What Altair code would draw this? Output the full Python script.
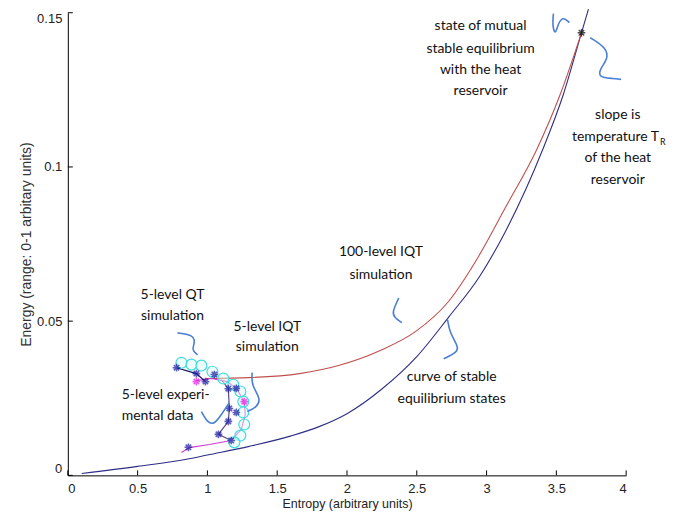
import altair as alt
import pandas as pd

# ---------------- data ----------------
# curve of stable equilibrium states
eq_S = [0.1, 0.5, 0.85, 1.0, 1.3, 1.6, 1.8, 2.0, 2.25, 2.5, 2.73, 2.95, 3.14, 3.4, 3.55, 3.68, 3.73]
eq_E = [0.0006, 0.0029, 0.0052, 0.0066, 0.0094, 0.0128, 0.0158, 0.0200, 0.0280, 0.0385, 0.0514, 0.0645, 0.0795, 0.1054, 0.1235, 0.1435, 0.1512]

# 100-level IQT simulation
red_S = [0.99, 1.3, 1.66, 1.94, 2.25, 2.49, 2.726, 2.936, 3.132, 3.357, 3.53, 3.68]
red_E = [0.0314, 0.0317, 0.0330, 0.0356, 0.0407, 0.0466, 0.0563, 0.0705, 0.0866, 0.1054, 0.1238, 0.1435]

# 5-level QT simulation (cyan circles)
qt_S = [0.814, 0.886, 0.957, 1.036, 1.114, 1.186, 1.236, 1.257, 1.257, 1.264, 1.236, 1.193]
qt_E = [0.0365, 0.0359, 0.0356, 0.0336, 0.0314, 0.0294, 0.0272, 0.0239, 0.0204, 0.0165, 0.0129, 0.0107]

# 5-level IQT simulation (magenta line + stars)
iqt_S = [0.814, 0.871, 1.014, 1.171, 1.243, 1.271, 1.264, 1.214, 1.143, 1.029, 0.921]
iqt_E = [0.0074, 0.009, 0.010, 0.0113, 0.0149, 0.0197, 0.0239, 0.0278, 0.0304, 0.0314, 0.0307]
iqt_star_S = [0.921, 1.264]
iqt_star_E = [0.0304, 0.0239]

# 5-level experimental data (navy stars)
exp_S = [0.779, 0.921, 0.986, 1.05, 1.15, 1.207, 1.157, 1.207, 1.15, 1.079, 1.171, 0.864]
exp_E = [0.0349, 0.0330, 0.0304, 0.0327, 0.0281, 0.0282, 0.0217, 0.0204, 0.0175, 0.0133, 0.0113, 0.0091]
exp_line1_S = [0.779, 0.921, 0.986]
exp_line1_E = [0.0349, 0.0330, 0.0304]
exp_line2_S = [1.10, 1.15, 1.157, 1.15, 1.079, 1.171]
exp_line2_E = [0.0310, 0.0281, 0.0217, 0.0175, 0.0133, 0.0113]

# state of mutual stable equilibrium
star_S = [3.68]
star_E = [0.1435]

# hand-drawn blue pointer strokes
sq1_S = [3.479, 3.471, 3.493, 3.514, 3.55, 3.593]
sq1_E = [0.1497, 0.1458, 0.1426, 0.1468, 0.1487, 0.1468]
sq2_S = [3.743, 3.857, 3.871, 3.814, 3.8, 3.907, 3.964]
sq2_E = [0.1419, 0.1387, 0.1351, 0.1319, 0.129, 0.1287, 0.1284]
sq3_S = [2.371, 2.321, 2.343, 2.393]
sq3_E = [0.0575, 0.0527, 0.0511, 0.0495]
sq4_S = [2.721, 2.736, 2.8, 2.786, 2.693]
sq4_E = [0.0504, 0.0462, 0.0417, 0.0398, 0.0378]
sq5_S = [0.786, 0.893, 0.914, 0.886, 0.929]
sq5_E = [0.0462, 0.0456, 0.0433, 0.0407, 0.0391]
sq6_S = [1.321, 1.314, 1.386, 1.35, 1.286]
sq6_E = [0.0333, 0.0294, 0.0246, 0.022, 0.0207]
sq7_S = [0.957, 1.0, 1.05, 1.1, 1.157]
sq7_E = [0.0207, 0.0171, 0.0165, 0.0197, 0.0236]

# annotation texts
ann_center = [
    ("state of mutual", 2.957, 0.1458),
    ("stable equilibrium", 2.957, 0.1384),
    ("with the heat", 2.957, 0.1313),
    ("reservoir", 2.957, 0.1245),
    ("slope is", 3.94, 0.1167),
    ("of the heat", 3.94, 0.1028),
    ("reservoir", 3.94, 0.0957),
    ("100-level IQT", 2.243, 0.0724),
    ("simulation", 2.243, 0.065),
    ("curve of stable", 2.75, 0.032),
    ("equilibrium states", 2.75, 0.0249),
    ("5-level QT", 0.75, 0.0585),
    ("simulation", 0.75, 0.0517),
    ("5-level IQT", 1.429, 0.0482),
    ("simulation", 1.429, 0.0417),
]
ann_left = [
    ("5-level experi-", 0.386, 0.0262),
    ("mental data", 0.386, 0.0191),
]
ann_right = [("temperature T", 4.236, 0.1096)]
ann_sub = [("R", 4.243, 0.1082)]

x_ticks = [0, 0.5, 1, 1.5, 2, 2.5, 3, 3.5, 4]
y_ticks = [0, 0.05, 0.1, 0.15]

# ---------------- build tables ----------------
def line_df(name, xs, ys):
    return pd.DataFrame({"S": xs, "E": ys, "series": name, "order": range(len(xs))})

curves = pd.concat([
    line_df("eq", eq_S, eq_E),
    line_df("red", red_S, red_E),
])
lines = pd.concat([
    line_df("iqt", iqt_S, iqt_E),
    line_df("exp1", exp_line1_S, exp_line1_E),
    line_df("exp2", exp_line2_S, exp_line2_E),
])
squig = pd.concat([
    line_df(f"sq{i}", s, e) for i, (s, e) in enumerate(
        [(sq1_S, sq1_E), (sq2_S, sq2_E), (sq3_S, sq3_E), (sq4_S, sq4_E),
         (sq5_S, sq5_E), (sq6_S, sq6_E), (sq7_S, sq7_E)])
])

xs = alt.Scale(domain=[0, 4], nice=False)
ys = alt.Scale(domain=[0, 0.15], nice=False)

FONT_AX = "Liberation Sans"
FONT_TXT = "Lato"

X = alt.X("S:Q", scale=xs, axis=alt.Axis(
    values=x_ticks, format="~g", title="Entropy (arbitrary units)", grid=False,
    ticks=False, labelPadding=7, titlePadding=2, domainColor="black",
    labelFont=FONT_AX, labelFontSize=13, labelColor="#222", titleFont=FONT_AX,
    titleFontSize=12.5, titleFontWeight="normal", titleColor="#222"))
Y = alt.Y("E:Q", scale=ys, axis=alt.Axis(
    values=y_ticks, format="~g", title="Energy (range: 0-1 arbitary units)", grid=False,
    ticks=False, labelPadding=6, titlePadding=3, domainColor="black", labelFlush=True,
    labelFont=FONT_AX, labelFontSize=13, labelColor="#222", titleFont=FONT_AX,
    titleFontSize=14, titleFontWeight="normal", titleColor="#333"))

curve_colors = alt.Scale(domain=["eq", "red"], range=["#2e2e86", "#c0504d"])
line_colors = alt.Scale(domain=["iqt", "exp1", "exp2"],
                        range=["#d040d0", "#10105a", "#5a4a8a"])

base_curves = alt.Chart(curves).mark_line(strokeWidth=1.1, interpolate="monotone").encode(
    x=X, y=Y, color=alt.Color("series:N", scale=curve_colors, legend=None),
    detail="series:N", order="order:Q")

base_lines = alt.Chart(lines).mark_line(strokeWidth=1.2).encode(
    x="S:Q", y="E:Q", color=alt.Color("series:N", scale=line_colors, legend=None),
    detail="series:N", order="order:Q")

qt = alt.Chart(pd.DataFrame({"S": qt_S, "E": qt_E})).mark_point(
    shape="circle", size=120, filled=False, stroke="#3fdede", strokeWidth=1.2,
    fill="#e0fafa", fillOpacity=0.5).encode(x="S:Q", y="E:Q")

ASTER = "M-1,0L1,0M0,-1L0,1M-0.7,-0.7L0.7,0.7M-0.7,0.7L0.7,-0.7"

exp_pts = alt.Chart(pd.DataFrame({"S": exp_S, "E": exp_E})).mark_point(
    shape=ASTER, size=60, filled=False, stroke="#1a1aa0", strokeWidth=1.6).encode(x="S:Q", y="E:Q")
iqt_pts = alt.Chart(pd.DataFrame({"S": iqt_star_S, "E": iqt_star_E})).mark_point(
    shape=ASTER, size=60, filled=False, stroke="#e020e0", strokeWidth=1.6).encode(x="S:Q", y="E:Q")
star = alt.Chart(pd.DataFrame({"S": star_S, "E": star_E})).mark_point(
    shape=ASTER, size=60, filled=False, stroke="black", strokeWidth=1.4).encode(x="S:Q", y="E:Q")

sq = alt.Chart(squig).mark_line(strokeWidth=1.6, color="#4a7fd4", interpolate="basis").encode(
    x="S:Q", y="E:Q", detail="series:N", order="order:Q")

def text_layer(items, align, size=14):
    df = pd.DataFrame(items, columns=["t", "S", "E"])
    return alt.Chart(df).mark_text(align=align, baseline="middle", font=FONT_TXT,
                                   fontSize=size, color="#111").encode(x="S:Q", y="E:Q", text="t:N")

t_c = text_layer(ann_center, "center")
t_l = text_layer(ann_left, "left")
t_r = text_layer(ann_right, "right")
t_s = text_layer(ann_sub, "left", size=9)

xt = alt.Chart(pd.DataFrame({"S": x_ticks})).mark_rule(color="black").encode(
    x="S:Q", y=alt.value(464), y2=alt.value(459))
yt = alt.Chart(pd.DataFrame({"E": y_ticks})).mark_rule(color="black").encode(
    y="E:Q", x=alt.value(0), x2=alt.value(5))

chart = alt.layer(base_curves, base_lines, qt, exp_pts, iqt_pts, star, sq,
                  t_c, t_l, t_r, t_s, xt, yt).resolve_scale(color="independent").properties(
    width=560, height=464,
    autosize=alt.AutoSizeParams(type="none"),
    padding={"left": 60, "top": 4, "right": 50, "bottom": 40},
).configure_view(stroke=None).configure_axis(domainWidth=1)

chart.save("out.html", embed_options={"renderer": "svg", "actions": False})
